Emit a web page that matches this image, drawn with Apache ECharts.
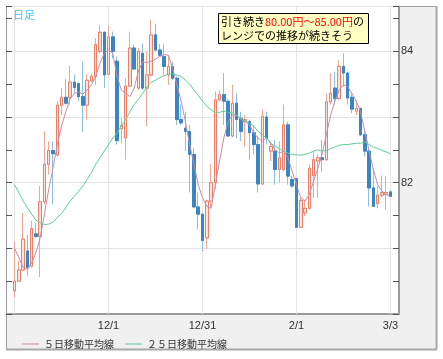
<!DOCTYPE html>
<html><head><meta charset="utf-8">
<script src="https://cdn.jsdelivr.net/npm/echarts@6.0.0/dist/echarts.min.js"></script>
<style>html,body{margin:0;padding:0;background:#fff}#c{width:443px;height:359px}</style>
</head><body><div id="c"></div>
<script>
const dates = ['11/1','11/2','11/3','11/4','11/5','11/8','11/9','11/10','11/11','11/12','11/15','11/16','11/17','11/18','11/19','11/22','11/23','11/24','11/25','11/26','11/29','11/30',
'12/1','12/2','12/3','12/6','12/7','12/8','12/9','12/10','12/13','12/14','12/15','12/16','12/17','12/20','12/21','12/22','12/23','12/24','12/27','12/28','12/29','12/30','12/31',
'1/3','1/4','1/5','1/6','1/7','1/10','1/11','1/12','1/13','1/14','1/17','1/18','1/19','1/20','1/21','1/24','1/25','1/26','1/27','1/28','1/31',
'2/1','2/2','2/3','2/4','2/7','2/8','2/9','2/10','2/11','2/14','2/15','2/16','2/17','2/18','2/21','2/22','2/23','2/24','2/25','2/28',
'3/1','3/2','3/3'];
const opens  = [80.35,80.50,80.67,80.96,80.73,81.22,81.18,81.71,82.28,82.49,82.42,83.18,83.30,83.30,83.53,83.51,83.31,83.18,83.55,83.62,84.00,84.29,83.65,84.22,83.85,82.82,82.68,83.47,84.05,83.44,83.97,83.44,83.64,84.25,84.02,83.92,83.64,83.77,83.59,82.96,82.83,82.78,82.43,81.63,81.52,81.16,81.72,82.00,83.26,83.34,83.24,82.71,83.21,82.98,82.93,82.93,82.76,82.58,81.98,83.00,82.48,82.48,82.20,82.20,82.88,82.05,82.06,81.32,81.54,81.61,82.11,82.33,82.38,82.35,83.23,83.44,83.28,83.77,83.67,83.30,83.09,83.13,82.73,82.48,81.92,81.68,81.81,81.82,81.86];
const closes = [80.50,80.67,81.14,80.71,81.30,81.18,81.71,82.28,82.49,82.44,83.18,83.30,83.21,83.53,83.45,83.31,83.18,83.56,83.62,84.10,84.29,83.64,84.22,84.00,82.64,82.87,83.47,84.05,83.73,84.00,83.44,83.64,84.25,84.02,83.94,83.77,83.77,83.59,82.96,82.91,82.78,82.43,81.63,81.52,81.12,81.72,82.00,83.26,83.34,83.24,82.71,83.21,82.96,82.78,82.96,82.76,82.58,81.98,83.01,82.68,82.55,82.20,82.38,82.88,82.10,81.95,81.32,81.73,81.61,82.22,82.35,82.38,82.35,83.23,83.36,83.28,83.77,83.67,83.29,83.12,83.13,82.73,82.48,81.92,81.64,81.81,81.85,81.85,81.79];
const lows   = [80.25,80.49,80.66,80.58,80.71,81.16,80.56,81.67,82.12,81.67,82.40,83.03,83.19,83.19,83.36,83.24,82.77,82.96,83.53,83.49,83.97,83.44,83.64,83.89,82.58,82.60,82.35,83.46,83.72,83.41,83.41,82.86,83.62,84.00,83.92,83.64,83.49,83.56,82.88,82.88,82.48,81.85,81.62,81.29,80.96,80.99,81.62,81.90,83.24,82.88,82.71,82.69,82.68,82.63,82.55,82.35,82.43,81.85,81.97,82.58,82.33,81.97,82.00,82.17,81.97,81.92,81.31,81.31,81.49,81.59,81.77,81.77,82.17,82.33,83.19,83.19,83.26,83.46,83.19,83.06,83.03,82.71,82.40,81.64,81.63,81.61,81.78,81.59,81.78];
const highs  = [81.10,80.81,81.54,81.21,81.42,81.39,81.95,82.78,82.63,82.63,83.24,83.44,83.58,83.78,83.65,83.52,83.84,83.65,83.65,84.20,84.40,84.30,84.39,84.30,83.92,82.98,83.59,84.30,84.10,84.05,84.12,84.00,84.48,84.42,84.11,84.11,83.94,83.84,83.62,83.19,83.08,82.88,82.53,81.85,81.54,81.74,82.28,83.39,83.41,83.67,83.27,83.49,83.36,83.08,83.03,82.96,82.88,82.71,83.11,83.08,82.63,82.65,82.63,83.19,82.93,82.10,82.07,81.77,81.74,82.28,82.48,82.43,82.65,83.36,83.67,83.69,83.87,83.97,83.69,83.36,83.26,83.13,82.81,82.50,82.22,81.95,82.11,82.10,81.88];
const ma5  = [81.00,80.86,80.71,80.68,80.78,80.93,81.16,81.52,81.90,82.22,82.58,82.86,83.08,83.27,83.36,83.38,83.35,83.41,83.49,83.62,83.82,83.97,84.02,83.97,83.62,83.41,83.36,83.31,83.44,83.70,83.84,83.83,83.85,83.88,83.92,83.95,83.94,83.74,83.49,83.24,82.93,82.58,82.28,81.97,81.77,81.64,81.61,81.97,82.33,82.68,82.93,83.03,83.03,82.96,82.93,82.88,82.76,82.68,82.63,82.68,82.60,82.50,82.45,82.48,82.38,82.17,81.97,81.77,81.72,81.82,82.02,82.22,82.43,82.73,83.03,83.24,83.41,83.49,83.46,83.36,83.24,83.08,82.78,82.48,82.20,81.97,81.87,81.82,81.79];
const ma25 = [81.97,81.85,81.72,81.62,81.52,81.43,81.39,81.36,81.37,81.40,81.47,81.53,81.62,81.72,81.79,81.87,81.95,82.05,82.15,82.28,82.38,82.48,82.58,82.68,82.76,82.86,82.96,83.08,83.19,83.27,83.36,83.46,83.53,83.56,83.60,83.63,83.65,83.66,83.64,83.62,83.56,83.50,83.41,83.33,83.24,83.16,83.11,83.07,83.07,83.09,83.07,83.06,83.02,82.98,82.94,82.91,82.86,82.78,82.73,82.68,82.60,82.55,82.52,82.48,82.45,82.43,82.42,82.42,82.43,82.45,82.48,82.50,82.48,82.49,82.52,82.54,82.57,82.58,82.58,82.59,82.60,82.60,82.62,82.58,82.54,82.52,82.49,82.47,82.44];
const labelDates = ['12/1','12/31','2/1','3/3'];
const gridDates = ['11/1','12/1','12/31','2/1','3/3'];
const yLabels = [82, 84];
const seriesNames = ['５日移動平均線','２５日移動平均線'];

const padL = ['p1','p2'], padR = ['p3','p4'];
const cats = padL.concat(dates, padR);
const empty = ['-','-','-','-'];
const wickData = [empty, empty].concat(dates.map((d,i)=>[opens[i],closes[i],lows[i],highs[i]]));
const bodyData = [empty, empty].concat(dates.map((d,i)=>[opens[i],closes[i],Math.min(opens[i],closes[i]),Math.max(opens[i],closes[i])]));
const pad = a => ['-','-'].concat(a);

const chart = echarts.init(document.getElementById('c'), null, {renderer:'canvas'});
const yBase = {type:'value', min:80, max:84.69, interval:0.5, scale:true};
chart.setOption({
  animation:false,
  backgroundColor:'#ffffff',
  grid:{left:6, top:6, width:393, height:308, show:false},
  graphic:[
    {type:'rect', z:-20, shape:{x:6,y:6,width:430,height:343}, style:{fill:'#f0f0f0', stroke:null}},
    {type:'line', z:-19, shape:{x1:436.5,y1:6,x2:436.5,y2:349}, style:{stroke:'#a8a8a8', lineWidth:2}},
    {type:'line', z:-19, shape:{x1:6,y1:349.5,x2:437,y2:349.5}, style:{stroke:'#a8a8a8', lineWidth:2}},
    {type:'line', z:-19, shape:{x1:6,y1:6.5,x2:436,y2:6.5}, style:{stroke:'#a0a0a0', lineWidth:1}},
    {type:'line', z:-19, shape:{x1:6.5,y1:6,x2:6.5,y2:349}, style:{stroke:'#a0a0a0', lineWidth:1}},
    {type:'rect', z:-18, shape:{x:6.5,y:6.5,width:392,height:307}, style:{fill:'#ffffff', stroke:'#9a9a9a', lineWidth:1}},
    {type:'text', z:50, x:13, y:9, style:{text:'日足', fill:'#4fc3f0', font:'11px "Noto Sans CJK JP"'}},
    {type:'rect', z:50, shape:{x:218.5,y:13.5,width:150,height:30}, style:{fill:'#ffffc4', stroke:'#000', lineWidth:1}},
    {type:'text', z:51, x:221, y:15, style:{
      text:'{a|引き続き}{r|80.00円～85.00円}{a|の}\n{a|レンジでの推移が続きそう}',
      rich:{a:{fill:'#000', fontSize:11, fontFamily:'"Noto Sans CJK JP"', lineHeight:14},
            r:{fill:'#ff0000', fontSize:11, fontFamily:'"Noto Sans CJK JP"', lineHeight:14}}}}
  ],
  legend:{
    left:17, top:334, itemWidth:17, itemHeight:1, itemGap:11, icon:'rect',
    data:seriesNames,
    textStyle:{color:'#333', fontSize:10, fontFamily:'"Noto Sans CJK JP"'}
  },
  xAxis:{
    type:'category', data:cats, boundaryGap:false,
    axisLine:{show:true, lineStyle:{color:'#9a9a9a'}},
    axisTick:{show:false},
    axisLabel:{interval:(i,v)=>labelDates.includes(v), color:'#333', fontSize:11, fontFamily:'"Liberation Sans", Arial', margin:6},
    splitLine:{show:true, interval:(i,v)=>gridDates.includes(v), lineStyle:{color:'#e4e4e4'}}
  },
  yAxis:[
    Object.assign({}, yBase, {position:'left',
      axisLine:{show:true, lineStyle:{color:'#9a9a9a'}},
      axisTick:{show:true, inside:true, length:6, lineStyle:{color:'#555'}},
      axisLabel:{show:false}, splitLine:{show:false}}),
    Object.assign({}, yBase, {position:'right',
      axisLine:{show:true, lineStyle:{color:'#9a9a9a'}},
      axisTick:{show:true, inside:true, length:6, lineStyle:{color:'#555'}},
      axisLabel:{show:true, margin:2, color:'#333', fontSize:11, fontFamily:'"Liberation Sans", Arial',
        formatter:v=>yLabels.includes(Math.round(v*100)/100)?String(v):''},
      splitLine:{show:false}}),
    Object.assign({}, yBase, {position:'left', interval:1,
      axisLine:{show:false}, axisTick:{show:false}, axisLabel:{show:false},
      splitLine:{show:true, lineStyle:{color:'#e4e4e4'}}})
  ],
  series:[
    {type:'candlestick', name:'wick', data:wickData, barWidth:3, yAxisIndex:0,
      itemStyle:{color:'transparent', color0:'transparent', borderColor:'#f0a696', borderColor0:'#92bde2', borderWidth:1}},
    {type:'candlestick', name:'body', data:bodyData, barWidth:3, yAxisIndex:0,
      itemStyle:{color:'#fde4dc', color0:'#3a85c3', borderColor:'#e8806a', borderColor0:'#3a85c3', borderWidth:1}},
    {type:'line', name:seriesNames[0], data:pad(ma5), yAxisIndex:0, symbol:'none', smooth:false,
      lineStyle:{color:'#c98bb0', width:1}, itemStyle:{color:'#c98bb0'}},
    {type:'line', name:seriesNames[1], data:pad(ma25), yAxisIndex:0, symbol:'none', smooth:false,
      lineStyle:{color:'#5ccf96', width:1}, itemStyle:{color:'#5ccf96'}}
  ]
});
</script></body></html>
